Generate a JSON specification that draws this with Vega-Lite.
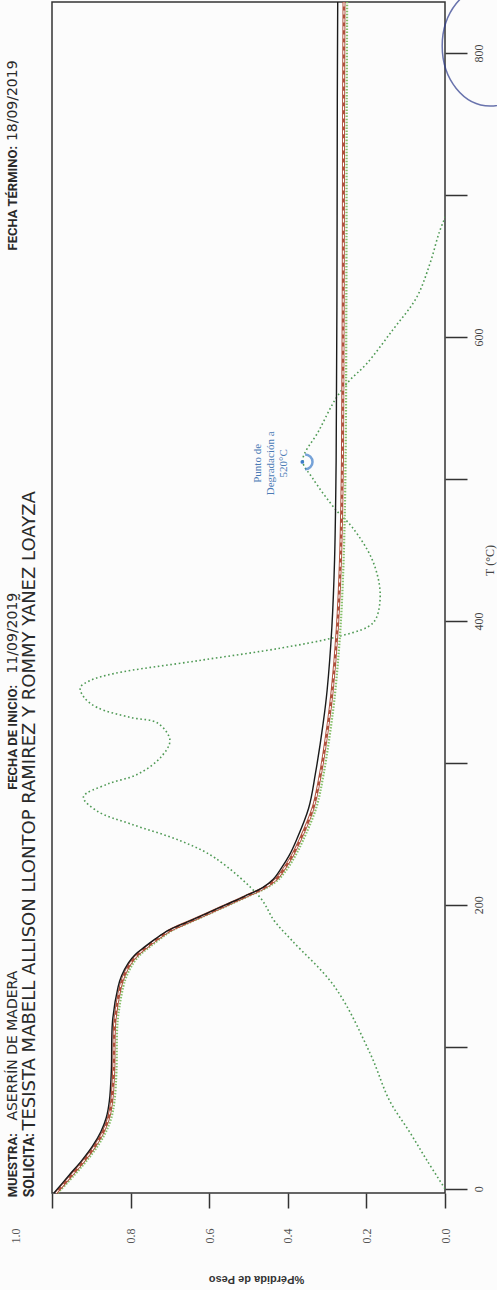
{
  "$schema": "https://vega.github.io/schema/vega-lite/v6.json",
  "width": 393,
  "height": 1191,
  "autosize": {"type": "none"},
  "padding": {"left": 52, "top": 2, "right": 52, "bottom": 97},
  "background": "#fcfcfc",
  "config": {
    "view": {"stroke": "#333333", "strokeWidth": 1.5},
    "axis": {"domain": false, "grid": false}
  },
  "datasets": {
    "tg": [
      {"s": "black", "T": -3, "w": 0.995}, {"s": "black", "T": 10, "w": 0.955}, {"s": "black", "T": 20, "w": 0.924}, {"s": "black", "T": 30, "w": 0.897}, {"s": "black", "T": 40, "w": 0.876}, {"s": "black", "T": 50, "w": 0.862}, {"s": "black", "T": 62, "w": 0.854}, {"s": "black", "T": 83, "w": 0.849}, {"s": "black", "T": 118, "w": 0.846}, {"s": "black", "T": 142, "w": 0.832}, {"s": "black", "T": 150, "w": 0.823}, {"s": "black", "T": 159, "w": 0.806}, {"s": "black", "T": 165, "w": 0.788}, {"s": "black", "T": 170, "w": 0.766}, {"s": "black", "T": 176, "w": 0.737}, {"s": "black", "T": 182, "w": 0.704}, {"s": "black", "T": 188, "w": 0.655}, {"s": "black", "T": 194, "w": 0.606}, {"s": "black", "T": 200, "w": 0.558}, {"s": "black", "T": 206, "w": 0.51}, {"s": "black", "T": 212, "w": 0.465}, {"s": "black", "T": 218, "w": 0.437}, {"s": "black", "T": 226, "w": 0.416}, {"s": "black", "T": 235, "w": 0.396}, {"s": "black", "T": 245, "w": 0.379}, {"s": "black", "T": 268, "w": 0.347}, {"s": "black", "T": 292, "w": 0.33}, {"s": "black", "T": 328, "w": 0.31}, {"s": "black", "T": 351, "w": 0.3}, {"s": "black", "T": 395, "w": 0.288}, {"s": "black", "T": 443, "w": 0.281}, {"s": "black", "T": 513, "w": 0.277}, {"s": "black", "T": 626, "w": 0.275}, {"s": "black", "T": 767, "w": 0.274}, {"s": "black", "T": 836, "w": 0.273},
      {"s": "red", "T": -3, "w": 0.99}, {"s": "red", "T": 10, "w": 0.949}, {"s": "red", "T": 20, "w": 0.918}, {"s": "red", "T": 30, "w": 0.891}, {"s": "red", "T": 40, "w": 0.87}, {"s": "red", "T": 50, "w": 0.856}, {"s": "red", "T": 62, "w": 0.848}, {"s": "red", "T": 83, "w": 0.843}, {"s": "red", "T": 118, "w": 0.84}, {"s": "red", "T": 142, "w": 0.826}, {"s": "red", "T": 150, "w": 0.817}, {"s": "red", "T": 159, "w": 0.8}, {"s": "red", "T": 165, "w": 0.782}, {"s": "red", "T": 170, "w": 0.76}, {"s": "red", "T": 176, "w": 0.732}, {"s": "red", "T": 182, "w": 0.7}, {"s": "red", "T": 188, "w": 0.652}, {"s": "red", "T": 194, "w": 0.603}, {"s": "red", "T": 200, "w": 0.555}, {"s": "red", "T": 206, "w": 0.507}, {"s": "red", "T": 212, "w": 0.46}, {"s": "red", "T": 218, "w": 0.43}, {"s": "red", "T": 226, "w": 0.408}, {"s": "red", "T": 235, "w": 0.388}, {"s": "red", "T": 245, "w": 0.37}, {"s": "red", "T": 268, "w": 0.336}, {"s": "red", "T": 292, "w": 0.317}, {"s": "red", "T": 328, "w": 0.297}, {"s": "red", "T": 351, "w": 0.287}, {"s": "red", "T": 395, "w": 0.274}, {"s": "red", "T": 443, "w": 0.266}, {"s": "red", "T": 513, "w": 0.261}, {"s": "red", "T": 626, "w": 0.259}, {"s": "red", "T": 767, "w": 0.258}, {"s": "red", "T": 836, "w": 0.257},
      {"s": "green", "T": -3, "w": 0.985}, {"s": "green", "T": 10, "w": 0.942}, {"s": "green", "T": 20, "w": 0.911}, {"s": "green", "T": 30, "w": 0.884}, {"s": "green", "T": 40, "w": 0.863}, {"s": "green", "T": 50, "w": 0.849}, {"s": "green", "T": 62, "w": 0.841}, {"s": "green", "T": 83, "w": 0.836}, {"s": "green", "T": 118, "w": 0.833}, {"s": "green", "T": 142, "w": 0.819}, {"s": "green", "T": 150, "w": 0.81}, {"s": "green", "T": 159, "w": 0.793}, {"s": "green", "T": 165, "w": 0.775}, {"s": "green", "T": 170, "w": 0.753}, {"s": "green", "T": 176, "w": 0.725}, {"s": "green", "T": 182, "w": 0.694}, {"s": "green", "T": 188, "w": 0.646}, {"s": "green", "T": 194, "w": 0.597}, {"s": "green", "T": 200, "w": 0.549}, {"s": "green", "T": 206, "w": 0.501}, {"s": "green", "T": 212, "w": 0.454}, {"s": "green", "T": 218, "w": 0.423}, {"s": "green", "T": 226, "w": 0.4}, {"s": "green", "T": 235, "w": 0.38}, {"s": "green", "T": 245, "w": 0.362}, {"s": "green", "T": 268, "w": 0.328}, {"s": "green", "T": 292, "w": 0.309}, {"s": "green", "T": 328, "w": 0.289}, {"s": "green", "T": 351, "w": 0.279}, {"s": "green", "T": 395, "w": 0.266}, {"s": "green", "T": 443, "w": 0.258}, {"s": "green", "T": 513, "w": 0.253}, {"s": "green", "T": 626, "w": 0.251}, {"s": "green", "T": 767, "w": 0.25}, {"s": "green", "T": 836, "w": 0.249}
    ],
    "dtg": [
      {"T": 0, "w": 0.0}, {"T": 20, "w": 0.046}, {"T": 40, "w": 0.09}, {"T": 62, "w": 0.141}, {"T": 95, "w": 0.19}, {"T": 142, "w": 0.28}, {"T": 175, "w": 0.39}, {"T": 189, "w": 0.435}, {"T": 205, "w": 0.47}, {"T": 233, "w": 0.585}, {"T": 245, "w": 0.672}, {"T": 257, "w": 0.8}, {"T": 266, "w": 0.885}, {"T": 276, "w": 0.92}, {"T": 285, "w": 0.859}, {"T": 292, "w": 0.782}, {"T": 304, "w": 0.723}, {"T": 316, "w": 0.7}, {"T": 328, "w": 0.731}, {"T": 332, "w": 0.8}, {"T": 339, "w": 0.885}, {"T": 346, "w": 0.918}, {"T": 353, "w": 0.928}, {"T": 358, "w": 0.903}, {"T": 363, "w": 0.841}, {"T": 372, "w": 0.628}, {"T": 381, "w": 0.415}, {"T": 388, "w": 0.287}, {"T": 396, "w": 0.195}, {"T": 402, "w": 0.175}, {"T": 420, "w": 0.165}, {"T": 443, "w": 0.185}, {"T": 466, "w": 0.236}, {"T": 478, "w": 0.277}, {"T": 501, "w": 0.338}, {"T": 513, "w": 0.362}, {"T": 534, "w": 0.321}, {"T": 557, "w": 0.277}, {"T": 569, "w": 0.244}, {"T": 581, "w": 0.2}, {"T": 605, "w": 0.133}, {"T": 628, "w": 0.072}, {"T": 652, "w": 0.038}, {"T": 675, "w": 0.013}, {"T": 690, "w": -0.01}, {"T": 700, "w": -0.03}
    ]
  },
  "layer": [
    {
      "data": {"name": "dtg"},
      "mark": {"type": "line", "interpolate": "catmull-rom", "color": "#4f9a55", "strokeWidth": 1.6, "strokeDash": [1.6, 2.6], "clip": true},
      "encoding": {
        "x": {
          "field": "w", "type": "quantitative",
          "scale": {"domain": [0, 1], "reverse": true, "nice": false, "zero": false},
          "axis": {
            "orient": "bottom",
            "values": [0, 0.1, 0.2, 0.3, 0.4, 0.5, 0.6, 0.7, 0.8, 0.9, 1],
            "tickSize": 15, "tickColor": "#333333", "tickWidth": 1.5,
            "labelExpr": "round(datum.value * 10) % 2 == 0 ? format(datum.value, '.1f') : ''",
            "labelAngle": 270, "labelAlign": "right", "labelBaseline": "middle",
            "labelPadding": 20, "labelFont": "Liberation Serif", "labelFontSize": 12, "labelColor": "#555555",
            "labelOffset": {"condition": {"test": "datum.value == 1", "value": -37}, "value": 0},
            "labelOverlap": false,
            "title": "%Pérdida de Peso", "titleAngle": 180, "titleAlign": "center", "titleBaseline": "middle",
            "titleX": 204, "titleY": 85, "titleFont": "Liberation Sans", "titleFontSize": 11, "titleFontWeight": "bold", "titleColor": "#333333"
          }
        },
        "y": {
          "field": "T", "type": "quantitative",
          "scale": {"domain": [-3, 836], "nice": false, "zero": false},
          "axis": {
            "orient": "right",
            "values": [0, 100, 200, 300, 400, 500, 600, 700, 800],
            "tickSize": 22, "tickColor": "#333333", "tickWidth": 1.5,
            "labelExpr": "datum.value % 200 == 0 ? datum.label : ''",
            "labelAngle": 270, "labelAlign": "center", "labelBaseline": "top",
            "labelPadding": 6, "labelFont": "Liberation Serif", "labelFontSize": 12, "labelColor": "#444444",
            "labelOverlap": false,
            "title": "T (°C)", "titleAngle": 270, "titleAlign": "center", "titleBaseline": "middle",
            "titleX": 44, "titleY": 558, "titleFont": "Liberation Serif", "titleFontSize": 12, "titleFontWeight": "normal", "titleColor": "#444444"
          }
        },
        "order": {"field": "T", "type": "quantitative"}
      }
    },
    {
      "data": {"name": "tg"},
      "transform": [{"filter": "datum.s == 'green'"}],
      "mark": {"type": "line", "interpolate": "catmull-rom", "color": "#86bf6a", "strokeWidth": 2.2, "strokeDash": [1.5, 1.5]},
      "encoding": {
        "x": {"field": "w", "type": "quantitative"},
        "y": {"field": "T", "type": "quantitative"},
        "order": {"field": "T", "type": "quantitative"}
      }
    },
    {
      "data": {"name": "tg"},
      "transform": [{"filter": "datum.s == 'red'"}],
      "mark": {"type": "line", "interpolate": "catmull-rom", "color": "#b0503c", "strokeWidth": 3},
      "encoding": {
        "x": {"field": "w", "type": "quantitative"},
        "y": {"field": "T", "type": "quantitative"},
        "order": {"field": "T", "type": "quantitative"}
      }
    },
    {
      "data": {"name": "tg"},
      "transform": [{"filter": "datum.s == 'red'"}],
      "mark": {"type": "line", "interpolate": "catmull-rom", "color": "#ffffff", "strokeWidth": 1.1, "strokeDash": [4, 4]},
      "encoding": {
        "x": {"field": "w", "type": "quantitative"},
        "y": {"field": "T", "type": "quantitative"},
        "order": {"field": "T", "type": "quantitative"}
      }
    },
    {
      "data": {"name": "tg"},
      "transform": [{"filter": "datum.s == 'black'"}],
      "mark": {"type": "line", "interpolate": "catmull-rom", "color": "#1a1a1a", "strokeWidth": 1.4},
      "encoding": {
        "x": {"field": "w", "type": "quantitative"},
        "y": {"field": "T", "type": "quantitative"},
        "order": {"field": "T", "type": "quantitative"}
      }
    },
    {
      "data": {"values": [{"label": "peak"}]},
      "mark": {"type": "point", "shape": "M0,-1A1,1,0,0,1,0,1", "filled": false, "stroke": "#3d7cc9", "strokeWidth": 2.5, "size": 220},
      "encoding": {"x": {"datum": 0.356}, "y": {"datum": 512}}
    },
    {
      "data": {"values": [{"label": "dot"}]},
      "mark": {"type": "point", "shape": "circle", "filled": true, "color": "#3d7cc9", "size": 14, "opacity": 1},
      "encoding": {"x": {"datum": 0.363}, "y": {"datum": 512}}
    },
    {
      "data": {"values": [{"label": ["Punto de", "Degradación a", "520°C"]}]},
      "mark": {"type": "text", "angle": 270, "align": "center", "baseline": "middle", "font": "Liberation Serif", "fontSize": 11, "color": "#4a7ab5", "lineHeight": 13},
      "encoding": {"x": {"datum": 0.476}, "y": {"datum": 511}, "text": {"field": "label"}}
    },
    {
      "data": {"values": [{"label": "SOLICITA:"}]},
      "mark": {"type": "text", "angle": 270, "align": "left", "baseline": "middle", "font": "Roboto", "fontSize": 14, "fontWeight": "bold", "color": "#2a2a2a"},
      "encoding": {"x": {"datum": 1.056}, "y": {"datum": -6}, "text": {"field": "label"}}
    },
    {
      "data": {"values": [{"label": "TESISTA MABELL ALLISON LLONTOP RAMIREZ Y ROMMY YAÑEZ LOAYZA"}]},
      "mark": {"type": "text", "angle": 270, "align": "left", "baseline": "middle", "font": "DejaVu Sans", "fontSize": 18, "color": "#2a2a2a"},
      "encoding": {"x": {"datum": 1.056}, "y": {"datum": 41}, "text": {"field": "label"}}
    },
    {
      "data": {"values": [{"label": "MUESTRA:"}]},
      "mark": {"type": "text", "angle": 270, "align": "left", "baseline": "middle", "font": "Roboto", "fontSize": 13, "fontWeight": "bold", "color": "#2a2a2a"},
      "encoding": {"x": {"datum": 1.1}, "y": {"datum": -6}, "text": {"field": "label"}}
    },
    {
      "data": {"values": [{"label": "ASERRÍN DE MADERA"}]},
      "mark": {"type": "text", "angle": 270, "align": "left", "baseline": "middle", "font": "DejaVu Sans", "fontSize": 14, "color": "#2a2a2a"},
      "encoding": {"x": {"datum": 1.1}, "y": {"datum": 48}, "text": {"field": "label"}}
    },
    {
      "data": {"values": [{"label": "FECHA DE INICIO:"}]},
      "mark": {"type": "text", "angle": 270, "align": "left", "baseline": "middle", "font": "Roboto", "fontSize": 13, "fontWeight": "bold", "color": "#2a2a2a"},
      "encoding": {"x": {"datum": 1.1}, "y": {"datum": 281}, "text": {"field": "label"}}
    },
    {
      "data": {"values": [{"label": "11/09/2019"}]},
      "mark": {"type": "text", "angle": 270, "align": "left", "baseline": "middle", "font": "DejaVu Sans", "fontSize": 14, "color": "#2a2a2a"},
      "encoding": {"x": {"datum": 1.1}, "y": {"datum": 363}, "text": {"field": "label"}}
    },
    {
      "data": {"values": [{"label": "FECHA TÉRMINO:"}]},
      "mark": {"type": "text", "angle": 270, "align": "left", "baseline": "middle", "font": "Roboto", "fontSize": 13, "fontWeight": "bold", "color": "#2a2a2a"},
      "encoding": {"x": {"datum": 1.1}, "y": {"datum": 661}, "text": {"field": "label"}}
    },
    {
      "data": {"values": [{"label": "18/09/2019"}]},
      "mark": {"type": "text", "angle": 270, "align": "left", "baseline": "middle", "font": "DejaVu Sans", "fontSize": 14, "color": "#2a2a2a"},
      "encoding": {"x": {"datum": 1.1}, "y": {"datum": 738}, "text": {"field": "label"}}
    },
    {
      "data": {"values": [{"label": "pen"}]},
      "mark": {"type": "point", "shape": "M-0.8,0A0.8,1,0,1,0,0.8,0A0.8,1,0,1,0,-0.8,0Z", "filled": false, "stroke": "#2b3a8c", "strokeWidth": 1.5, "size": 14400},
      "encoding": {"x": {"datum": -0.115}, "y": {"datum": 805}}
    }
  ]
}
